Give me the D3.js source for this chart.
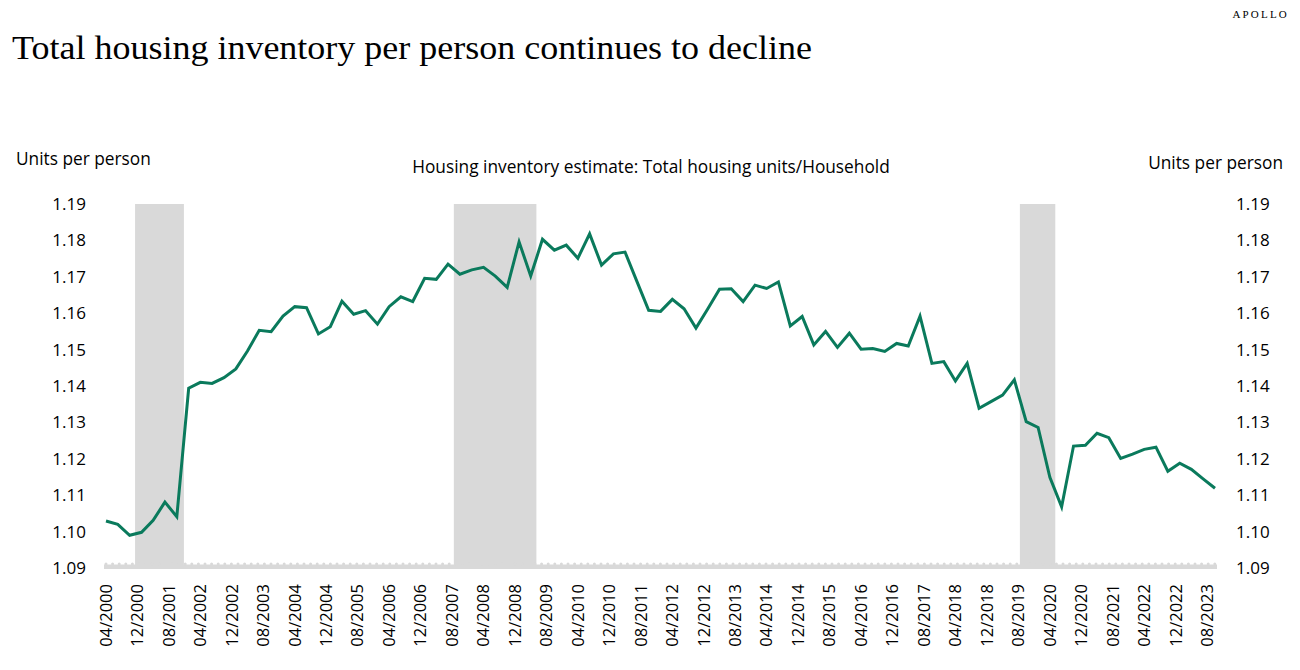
<!DOCTYPE html>
<html>
<head>
<meta charset="utf-8">
<script src="https://cdn.jsdelivr.net/npm/d3@7"></script>
<style>
  html, body { margin: 0; padding: 0; background: #fff; }
  svg { display: block; }
</style>
</head>
<body>
<svg id="chart" width="1300" height="670"></svg>
<script>
// ---- data ----
const title = "Total housing inventory per person continues to decline";
const seriesName = "Housing inventory estimate: Total housing units/Household";
const yAxisTitle = "Units per person";
const firstQuarter = "04/2000"; // quarterly observations start here
const values = [
  1.1029, 1.1020, 1.0990, 1.0998, 1.1031, 1.1081, 1.1041, 1.1394, 1.1410, 1.1407,
  1.1423, 1.1447, 1.1496, 1.1553, 1.1549, 1.1592, 1.1618, 1.1615, 1.1543, 1.1563,
  1.1633, 1.1597, 1.1607, 1.1570, 1.1618, 1.1645, 1.1632, 1.1696, 1.1693, 1.1735,
  1.1707, 1.1719, 1.1726, 1.1702, 1.1671, 1.1796, 1.1702, 1.1803, 1.1773, 1.1787,
  1.1751, 1.1818, 1.1732, 1.1763, 1.1768, 1.1688, 1.1608, 1.1605, 1.1638, 1.1612,
  1.1559, 1.1612, 1.1666, 1.1667, 1.1632, 1.1677, 1.1668, 1.1686, 1.1565, 1.1591,
  1.1513, 1.1550, 1.1506, 1.1545, 1.1501, 1.1503, 1.1495, 1.1517, 1.1510, 1.1592,
  1.1462, 1.1467, 1.1414, 1.1462, 1.1339, 1.1357, 1.1375, 1.1417, 1.1302, 1.1286,
  1.1149, 1.1068, 1.1235, 1.1237, 1.1270, 1.1258, 1.1201, 1.1213, 1.1226, 1.1232,
  1.1166, 1.1188, 1.1171, 1.1145, 1.1119
];
const recessions = [
  ["2000-11-12", "2001-11-25"],
  ["2007-08-15", "2009-05-15"],
  ["2019-08-13", "2020-05-13"]
];
const xTickLabels = [
  "04/2000","12/2000","08/2001","04/2002","12/2002","08/2003","04/2004","12/2004",
  "08/2005","04/2006","12/2006","08/2007","04/2008","12/2008","08/2009","04/2010",
  "12/2010","08/2011","04/2012","12/2012","08/2013","04/2014","12/2014","08/2015",
  "04/2016","12/2016","08/2017","04/2018","12/2018","08/2019","04/2020","12/2020",
  "08/2021","04/2022","12/2022","08/2023"
];
const yTicks = [1.09, 1.10, 1.11, 1.12, 1.13, 1.14, 1.15, 1.16, 1.17, 1.18, 1.19];

// ---- build ----
const parseMY = d3.timeParse("%m/%Y");
const parseISO = d3.timeParse("%Y-%m-%d");
const start = parseMY(firstQuarter);
const data = values.map((v, i) => ({ date: d3.timeMonth.offset(start, 3 * i), value: v }));

const svg = d3.select("#chart");
const SANS = "'Open Sans', 'Noto Sans', sans-serif";
const SERIF = "'Liberation Serif', 'DejaVu Serif', serif";

const x = d3.scaleTime()
  .domain([data[0].date, data[data.length - 1].date])
  .range([106, 1215]);
const y = d3.scaleLinear().domain([1.09, 1.19]).range([568, 204]);

// recession bands
svg.append("g").selectAll("rect").data(recessions).join("rect")
  .attr("x", d => x(parseISO(d[0])))
  .attr("width", d => x(parseISO(d[1])) - x(parseISO(d[0])))
  .attr("y", y(1.19))
  .attr("height", y(1.09) - y(1.19))
  .attr("fill", "#d9d9d9");

// scalloped baseline
const x0 = x.range()[0] - 2, x1 = x.range()[1] + 2;
svg.append("rect")
  .attr("x", x0).attr("width", x1 - x0)
  .attr("y", y(1.09) - 3.5).attr("height", 4.5)
  .attr("fill", "#d9d9d9");
svg.append("line")
  .attr("x1", x0 + 2).attr("x2", x1)
  .attr("y1", y(1.09) - 4).attr("y2", y(1.09) - 4)
  .attr("stroke", "#d9d9d9").attr("stroke-width", 3)
  .attr("stroke-linecap", "round")
  .attr("stroke-dasharray", "0 6.6");

// line
svg.append("path")
  .datum(data)
  .attr("fill", "none")
  .attr("stroke", "#0a7a5c")
  .attr("stroke-width", 3)
  .attr("stroke-linejoin", "miter")
  .attr("d", d3.line().x(d => x(d.date)).y(d => y(d.value)));

// y axes
const fmt = d3.format(".2f");
const yl = svg.append("g").attr("transform", "translate(86,0)")
  .call(d3.axisLeft(y).tickValues(yTicks).tickFormat(fmt).tickSize(0).tickPadding(0));
const yr = svg.append("g").attr("transform", "translate(1236,0)")
  .call(d3.axisRight(y).tickValues(yTicks).tickFormat(fmt).tickSize(0).tickPadding(0));
[yl, yr].forEach(g => {
  g.select(".domain").remove();
  g.selectAll("text").attr("font-family", SANS).attr("font-size", 17).attr("fill", "#000");
});

// x axis
const xa = svg.append("g")
  .call(d3.axisBottom(x).tickValues(xTickLabels.map(parseMY))
    .tickFormat(d3.timeFormat("%m/%Y")).tickSize(0));
xa.select(".domain").remove();
xa.selectAll(".tick").attr("transform", d => `translate(${x(d)},0)`);
xa.selectAll("text")
  .attr("font-family", SANS).attr("font-size", 16.5).attr("fill", "#000")
  .attr("text-anchor", "end")
  .attr("y", 0).attr("dy", "0.35em")
  .attr("transform", "translate(0,584) rotate(-90)");

// texts
svg.append("text").attr("x", 12).attr("y", 59)
  .attr("font-family", SERIF).attr("font-size", 34).attr("fill", "#000")
  .attr("textLength", 800).attr("lengthAdjust", "spacingAndGlyphs")
  .text(title);
svg.append("text").attr("x", 1289).attr("y", 18)
  .attr("text-anchor", "end")
  .attr("font-family", SERIF).attr("font-size", 11).attr("letter-spacing", 2.2)
  .attr("fill", "#000").text("APOLLO");
svg.append("text").attr("x", 16).attr("y", 165)
  .attr("font-family", SANS).attr("font-size", 17.3).attr("fill", "#000").text(yAxisTitle);
svg.append("text").attr("x", 1283).attr("y", 169).attr("text-anchor", "end")
  .attr("font-family", SANS).attr("font-size", 17.3).attr("fill", "#000").text(yAxisTitle);
svg.append("text").attr("x", 651).attr("y", 173).attr("text-anchor", "middle")
  .attr("font-family", SANS).attr("font-size", 17.3).attr("fill", "#000").text(seriesName);
</script>
</body>
</html>
